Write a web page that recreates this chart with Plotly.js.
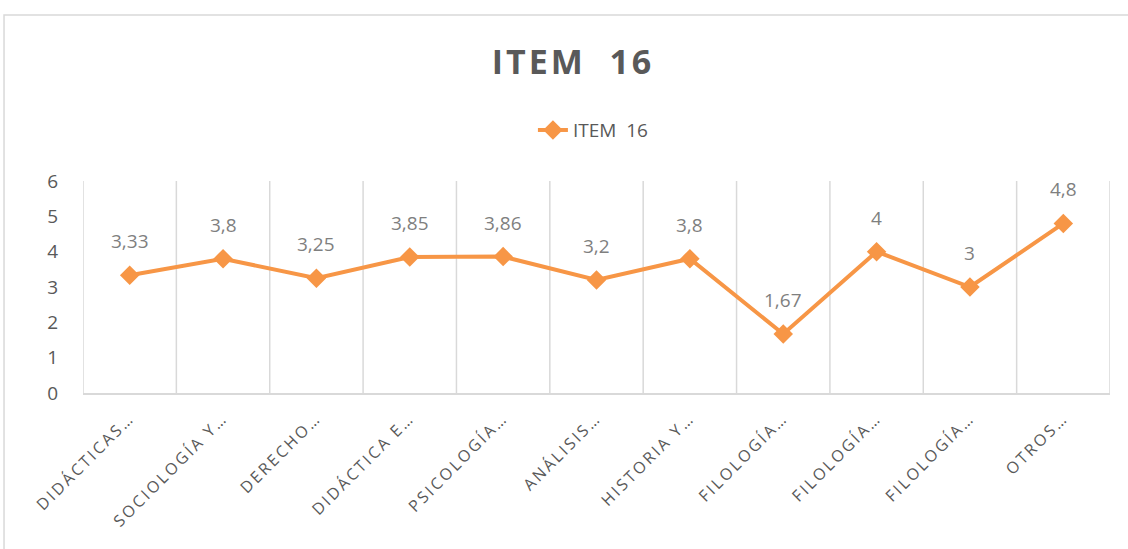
<!DOCTYPE html>
<html>
<head>
<meta charset="utf-8">
<script src="https://cdn.plot.ly/plotly-3.0.1.min.js"></script>
<style>
html,body{margin:0;padding:0;background:#fff;}
#chart{width:1128px;height:549px;}
.xtick text{letter-spacing:2.5px;}
.gtitle{letter-spacing:3px;}
</style>
</head>
<body>
<div id="chart"></div>
<script>
const categories = ["DIDÁCTICAS…","SOCIOLOGÍA Y…","DERECHO…","DIDÁCTICA E…","PSICOLOGÍA…","ANÁLISIS…","HISTORIA Y…","FILOLOGÍA…","FILOLOGÍA…","FILOLOGÍA…","OTROS…"];
const values = [3.33, 3.8, 3.25, 3.85, 3.86, 3.2, 3.8, 1.67, 4, 3, 4.8];
const seriesName = "ITEM  16";
const titleText = "ITEM  16";
const yTicks = [0,1,2,3,4,5,6];

const xIdx = categories.map((c,i)=>i);
const orange = "#F79646";
const gray = "#595959";
const grid = "#d9d9d9";

const trace = {
  x: xIdx, y: values, type: "scatter", mode: "lines+markers",
  name: seriesName,
  line: {color: orange, width: 4},
  marker: {symbol: "diamond", size: 15, color: orange},
  hoverinfo: "skip"
};

const annotations = values.map((v,i)=>({
  x: i, y: v, xref: "x", yref: "y",
  text: String(v).replace(".", ","),
  showarrow: false, yshift: 34,
  font: {family: "Open Sans, sans-serif", size: 19, color: "#7f7f7f"}
}));

const layout = {
  width: 1128, height: 549,
  margin: {l: 83, r: 18, t: 181, b: 156},
  paper_bgcolor: "#fff", plot_bgcolor: "#fff",
  title: {text: "<b>" + titleText + "</b>", x: 0.508, xanchor: "center", y: 0.887, yanchor: "middle", yref: "container",
          font: {family: "Open Sans, sans-serif", size: 34, color: gray}},
  showlegend: true,
  legend: {orientation: "h", x: 0.497, xanchor: "center", y: 1.24, yanchor: "middle",
           font: {family: "Open Sans, sans-serif", size: 19, color: gray}},
  xaxis: {
    range: [-0.5, categories.length - 0.5],
    tickmode: "array", tickvals: xIdx, ticktext: categories,
    tickangle: -45, ticks: "", showgrid: false, zeroline: false,
    showline: true, linecolor: grid, linewidth: 1.5,
    ticklabelstandoff: 8,
    tickfont: {family: "Open Sans, sans-serif", size: 16, color: gray},
    fixedrange: true
  },
  yaxis: {
    range: [0, 6], tickmode: "array", tickvals: yTicks,
    showgrid: false, zeroline: false, showline: false, ticks: "",
    ticklabelstandoff: 24,
    tickfont: {family: "Open Sans, sans-serif", size: 19, color: gray},
    fixedrange: true
  },
  shapes: [
    {type: "rect", xref: "paper", yref: "paper", x0: -0.0769, x1: 1.2, y0: -1.2, y1: 1.783,
     line: {color: grid, width: 1.5}, fillcolor: "rgba(0,0,0,0)", layer: "below"}
  ].concat(
    Array.from({length: categories.length + 1}, (_, k) => ({
      type: "line", xref: "x", yref: "paper", x0: k - 0.5, x1: k - 0.5, y0: 0, y1: 1,
      line: {color: grid, width: 1.5}, layer: "below"
    }))
  ),
  annotations: annotations
};

Plotly.newPlot("chart", [trace], layout, {displayModeBar: false, staticPlot: true});
</script>
</body>
</html>
